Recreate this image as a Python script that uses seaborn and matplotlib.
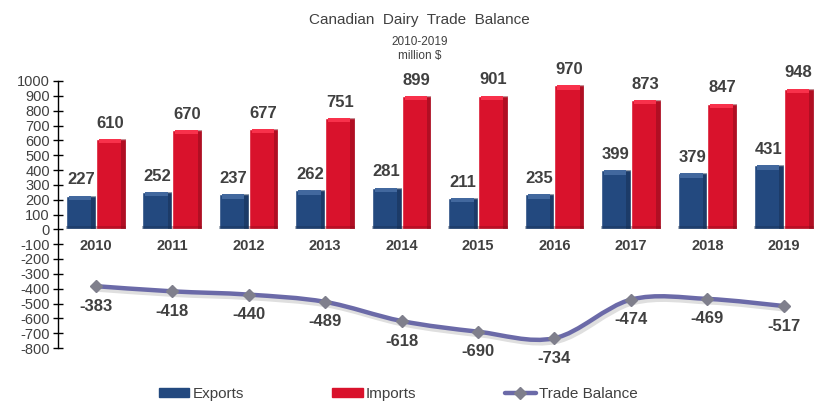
import numpy as np
import pandas as pd
import matplotlib
matplotlib.use("Agg")
import matplotlib.pyplot as plt
import matplotlib.patheffects as pe
from matplotlib.path import Path
from matplotlib.patches import PathPatch, Rectangle
from matplotlib.lines import Line2D
import seaborn as sns

# données
years = ["2010", "2011", "2012", "2013", "2014", "2015", "2016", "2017", "2018", "2019"]
exports = [227, 252, 237, 262, 281, 211, 235, 399, 379, 431]
imports = [610, 670, 677, 751, 899, 901, 970, 873, 847, 948]
balance = [-383, -418, -440, -489, -618, -690, -734, -474, -469, -517]

blue = "#23497f"
red = "#d9122c"
line_col = "#6b6aa8"
marker_col = "#7f7f8c"
txt = "#404040"

sns.set_theme(style="white")
plt.rcParams["font.family"] = ["Liberation Sans", "DejaVu Sans"]
plt.rcParams["axes.unicode_minus"] = False

df = pd.DataFrame({
    "Year": years * 2,
    "Value": exports + imports,
    "Serie": ["Exports"] * len(years) + ["Imports"] * len(years),
})

fig = plt.figure(figsize=(8.39, 4.17), dpi=100)
ax = fig.add_axes([57.5 / 839, 1 - 348 / 417, (822 - 57.5) / 839, (348 - 81) / 417])

sns.barplot(data=df, x="Year", y="Value", hue="Serie", palette=[blue, red],
            width=0.78, ax=ax, legend=False, saturation=1)

# effet biseauté sur les barres
n_bars = 2 * len(years)
for bar in ax.patches[:n_bars]:
    x0, w, h = bar.get_x(), bar.get_width(), bar.get_height()
    c = bar.get_facecolor()
    light = tuple(min(1, v + 0.12) for v in c[:3])
    dark = tuple(v * 0.6 for v in c[:3])
    ax.add_patch(Rectangle((x0 + w * 0.1, h - 30), w * 0.75, 30, color=light, lw=0, zorder=3))
    ax.add_patch(Rectangle((x0 + w * 0.85, 0), w * 0.15, h, color=dark, lw=0, zorder=3, alpha=0.45))
    ax.add_patch(Rectangle((x0, 0), w, 20, color=dark, lw=0, zorder=3, alpha=0.35))

# étiquettes des barres
for bar in ax.patches[:n_bars]:
    ax.annotate(f"{bar.get_height():.0f}", (bar.get_x() + bar.get_width() / 2, bar.get_height()),
                xytext=(0, 6), textcoords="offset points", ha="center", va="bottom",
                fontsize=12, fontweight="bold", color=txt, zorder=5)

# ligne lissée (Catmull-Rom -> Bézier)
xs = np.arange(len(balance))
pts = np.column_stack([xs, balance]).astype(float)
verts = [pts[0]]
codes = [Path.MOVETO]
for i in range(len(pts) - 1):
    p0 = pts[i - 1] if i > 0 else pts[i]
    p1, p2 = pts[i], pts[i + 1]
    p3 = pts[i + 2] if i + 2 < len(pts) else pts[i + 1]
    verts += [p1 + (p2 - p0) / 6, p2 - (p3 - p1) / 6, p2]
    codes += [Path.CURVE4] * 3
curve = PathPatch(Path(verts, codes), fill=False, edgecolor=line_col, lw=3.2, zorder=4,
                  capstyle="round",
                  path_effects=[pe.SimpleLineShadow(offset=(1.5, -2.5), alpha=0.25, shadow_color="gray"),
                                pe.Normal()])
ax.add_patch(curve)
ax.plot(xs, balance, ls="none", marker="D", ms=6, color=marker_col, zorder=5)
for x, v in zip(xs, balance):
    ax.annotate(f"{v}", (x, v), xytext=(0, -9), textcoords="offset points", ha="center", va="top",
                fontsize=12, fontweight="bold", color=txt, zorder=5)

ax.set_ylim(-800, 1000)
ax.set_xlim(-0.5, 9.5)
ax.set_yticks(range(-800, 1001, 100))
ax.set_xlabel("")
ax.set_ylabel("")
for s in ["top", "right", "bottom"]:
    ax.spines[s].set_visible(False)
ax.spines["left"].set_color("black")
ax.spines["left"].set_linewidth(1)
ax.spines["bottom"].set_position(("data", 0))
ax.tick_params(axis="y", direction="inout", length=7, width=1, color="black",
               labelsize=10.5, labelcolor=txt, pad=2, left=True)
ax.tick_params(axis="x", length=0, pad=7, labelcolor=txt)
for lab in ax.get_xticklabels():
    lab.set_fontweight("bold")
    lab.set_fontsize(10.5)

fig.text(0.5, 1 - 20 / 417, "Canadian  Dairy  Trade  Balance", ha="center", va="center", fontsize=11, color=txt)
fig.text(0.5, 1 - 42 / 417, "2010-2019", ha="center", va="center", fontsize=8.5, color=txt)
fig.text(0.5, 1 - 56 / 417, "million $", ha="center", va="center", fontsize=8.5, color=txt)

handles = [Rectangle((0, 0), 1, 1, color=blue), Rectangle((0, 0), 1, 1, color=red),
           Line2D([], [], color=line_col, lw=3.2, marker="D", ms=6, mfc=marker_col, mec=marker_col)]
fig.legend(handles, ["Exports", "Imports", "Trade Balance"], loc="center", ncol=3,
           bbox_to_anchor=(398 / 839, 1 - 394 / 417), frameon=False, fontsize=11,
           handlelength=2.0, handleheight=0.45, handletextpad=0.2, columnspacing=5.8,
           labelcolor=txt)

fig.savefig("out.png", dpi=100)
